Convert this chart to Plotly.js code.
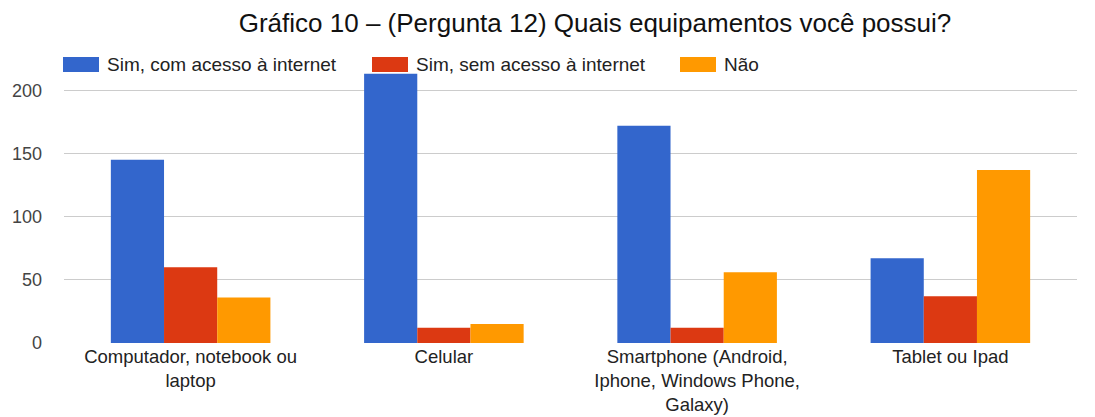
<!DOCTYPE html>
<html><head><meta charset="utf-8">
<script src="https://cdn.plot.ly/plotly-3.0.1.min.js"></script>
<style>html,body{margin:0;padding:0;background:#fff}#c{width:1095px;height:417px}</style>
</head><body><div id="c"></div>
<script>
const categories = ["Computador, notebook ou<br>laptop", "Celular", "Smartphone (Android,<br>Iphone, Windows Phone,<br>Galaxy)", "Tablet ou Ipad"];
const seriesNames = ["Sim, com acesso à internet", "Sim, sem acesso à internet", "Não"];
const simCom = [145, 213, 172, 67];
const simSem = [60, 12, 12, 37];
const nao = [36, 15, 56, 137];
const colors = ["#3366cc", "#dc3912", "#ff9900"];
const yTicks = [0, 50, 100, 150, 200];

const W = 1095, H = 417;
const m = {l: 64, r: 18, t: 65, b: 74};
const values = [simCom, simSem, nao];
const traces = values.map((v, i) => ({
  type: "bar", x: categories, y: v, name: seriesNames[i],
  marker: {color: colors[i]}, showlegend: false, hoverinfo: "none"
}));

// manual legend with wide swatches
const legX = [63, 372, 680];
const PW = W - m.l - m.r, PH = H - m.t - m.b;
const shapes = [], annotations = [];
legX.forEach((px, i) => {
  shapes.push({type: "rect", xref: "paper", yref: "paper",
    x0: (px - m.l) / PW, x1: (px + 36 - m.l) / PW,
    y0: (H - m.b - 72) / PH, y1: (H - m.b - 57) / PH,
    fillcolor: colors[i], line: {width: 0}});
  annotations.push({xref: "paper", yref: "paper", xanchor: "left", yanchor: "middle",
    x: (px + 42 - m.l) / PW, y: (H - m.b - 64.5) / PH,
    text: seriesNames[i], showarrow: false, font: {size: 19, color: "#222"}});
});

Plotly.newPlot("c", traces, {
  width: W, height: H,
  margin: m,
  paper_bgcolor: "#fff", plot_bgcolor: "#fff",
  font: {family: "Liberation Sans, Arial, sans-serif", color: "#222"},
  title: {text: "Gráfico 10 – (Pergunta 12) Quais equipamentos você possui?",
    xref: "paper", x: (595 - m.l) / PW, xanchor: "center", yref: "container", y: 1 - 23 / H, yanchor: "middle",
    font: {size: 26, color: "#111"}},
  barmode: "group", bargap: 0.37, bargroupgap: 0,
  xaxis: {showgrid: false, zeroline: false, showline: false, ticks: "",
    tickfont: {size: 18.5, color: "#222"}, automargin: false},
  yaxis: {range: [0, 220], tickvals: yTicks, showgrid: true, gridcolor: "#cccccc",
    zeroline: false, showline: false, ticks: "", ticklabelstandoff: 21,
    tickfont: {size: 18, color: "#444"}, automargin: false},
  shapes: shapes, annotations: annotations
}, {staticPlot: true});
</script></body></html>
